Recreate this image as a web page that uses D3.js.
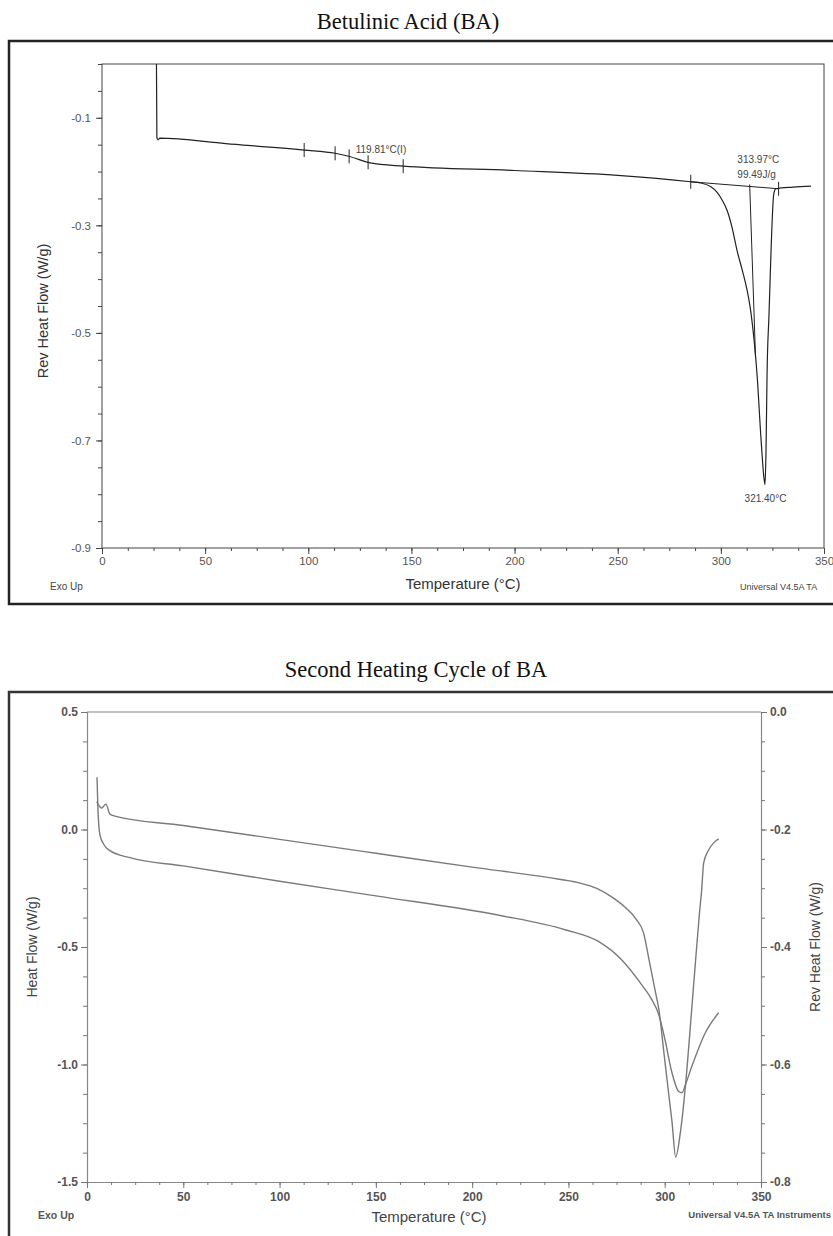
<!DOCTYPE html>
<html>
<head>
<meta charset="utf-8">
<script src="https://cdn.jsdelivr.net/npm/d3@7"></script>
<style>
  body { margin: 0; background: #fff; }
  svg { display: block; }
  text { font-family: Arial, "Liberation Sans", sans-serif; }
</style>
</head>
<body>
<svg id="chart" width="833" height="1236"></svg>
<script>
// DSC thermograms of betulinic acid

/*  DATA  */

// first run: rev heat flow (W/g) vs temperature (°C)
const baTemp = [26.4, 26.6, 27.2, 28, 60, 98, 113, 120, 130, 146, 200, 250, 285.4, 290, 295, 298, 300.6, 303, 305.5, 307.8,
    310.5, 312.7, 314.5, 316.1, 317.5, 319.5, 320.9, 321.4, 321.9, 322.4, 323.3, 325.7, 326.7, 335, 343.7];
const baRevHeat = [0.0, -0.137, -0.141, -0.138, -0.148, -0.160, -0.166, -0.172, -0.184, -0.190, -0.198, -0.207, -0.219, -0.221, -0.228, -0.238, -0.253, -0.272, -0.305, -0.346,
    -0.385, -0.420, -0.460, -0.513, -0.575, -0.699, -0.770, -0.782, -0.718, -0.575, -0.470, -0.240, -0.232, -0.229, -0.227];

// analysis marks on the first run
const markTemps = [98, 113, 119.8, 129, 146, 285.4, 328];
const integBaseTemp = [285.4, 328];
const integBaseVal = [-0.219, -0.232];
const onsetTemp = [313.97, 316.8];
const onsetVal = [-0.224, -0.545];
const baNotes = ['119.81°C(I)', '313.97°C', '99.49J/g', '321.40°C'];
const baNoteAt = [[123, -0.165], [308, -0.184], [308, -0.212], [311.5, -0.815]];

// second heating: heat flow (left axis) and rev heat flow (right axis)
const hfTemp = [5.0, 6.7, 7.6, 9.8, 11.9, 14.5, 50, 100, 150, 200, 240, 255, 265, 273, 280, 285, 289, 292, 295.3, 297,
    299.6, 302.2, 303.8, 305.7, 308.1, 310.9, 313.5, 316, 318.1, 319.2, 320.2, 322.8, 325.4, 328];
const hfVal = [0.118, 0.097, 0.091, 0.108, 0.066, 0.057, 0.017, -0.042, -0.101, -0.160, -0.205, -0.226, -0.252, -0.29, -0.335, -0.38, -0.44, -0.56, -0.696, -0.768,
    -0.951, -1.134, -1.245, -1.394, -1.291, -1.079, -0.819, -0.56, -0.351, -0.257, -0.143, -0.087, -0.057, -0.04];

const rhfTemp = [5.2, 5.7, 6.7, 8.8, 11.9, 22.3, 50, 100, 150, 214, 248.7, 265.8, 277.7, 288, 293, 297,
    300.3, 303.6, 307.3, 309, 310.8, 314, 321.1, 328];
const rhfVal = [-0.111, -0.167, -0.209, -0.226, -0.236, -0.248, -0.262, -0.288, -0.313, -0.346, -0.371, -0.391, -0.422, -0.464, -0.488, -0.516,
    -0.560, -0.612, -0.646, -0.648, -0.634, -0.604, -0.546, -0.512];

// axis ticks
const tempTicks = [0, 50, 100, 150, 200, 250, 300, 350];
const baYTicks = [-0.1, -0.3, -0.5, -0.7, -0.9];
const hfTicks = [0.5, 0.0, -0.5, -1.0, -1.5];
const rhfTicks = [0.0, -0.2, -0.4, -0.6, -0.8];

/*  SETUP  */

const svg = d3.select('#chart');
const fmt = d => d.toFixed(1);
const serif = '"Liberation Serif", "Times New Roman", serif';

// titles
svg.append('text').attr('x', 408).attr('y', 29).attr('text-anchor', 'middle')
    .style('font-family', serif).style('font-size', '22.5px').attr('fill', '#111')
    .text('Betulinic Acid (BA)');
svg.append('text').attr('x', 416).attr('y', 677).attr('text-anchor', 'middle')
    .style('font-family', serif).style('font-size', '22.5px').attr('fill', '#111')
    .text('Second Heating Cycle of BA');

// outer frames
svg.append('rect').attr('x', 9).attr('y', 41).attr('width', 840).attr('height', 563)
    .attr('fill', 'none').attr('stroke', '#222').attr('stroke-width', 2.5);
svg.append('rect').attr('x', 9).attr('y', 692).attr('width', 840).attr('height', 600)
    .attr('fill', 'none').attr('stroke', '#333').attr('stroke-width', 2.5);

/*  TOP CHART  */

const x1 = d3.scaleLinear().domain([0, 350]).range([102, 824]);
const y1 = d3.scaleLinear().domain([-0.9, 0]).range([548, 64]);

const topG = svg.append('g');

topG.append('rect').attr('x', 102).attr('y', 64).attr('width', 722).attr('height', 484)
    .attr('fill', 'none').attr('stroke', '#444').attr('stroke-width', 1);

// minor ticks
topG.append('g').attr('transform', 'translate(0,548)')
    .call(d3.axisBottom(x1).tickValues(d3.range(0, 351, 12.5)).tickSize(3).tickFormat(''))
    .call(g => g.select('.domain').remove());
topG.append('g').attr('transform', 'translate(102,0)')
    .call(d3.axisLeft(y1).tickValues(d3.range(-0.9, 0.001, 0.05)).tickSize(4).tickFormat(''))
    .call(g => g.select('.domain').remove());

topG.append('g').attr('transform', 'translate(0,548)')
    .call(d3.axisBottom(x1).tickValues(tempTicks).tickSize(6).tickPadding(3).tickFormat(d3.format('d')))
    .call(g => g.select('.domain').remove());
topG.append('g').attr('transform', 'translate(102,0)')
    .call(d3.axisLeft(y1).tickValues(baYTicks).tickSize(6).tickPadding(5).tickFormat(fmt))
    .call(g => g.select('.domain').remove());

topG.selectAll('.tick line').attr('stroke', '#444');
topG.selectAll('.tick text').attr('fill', '#555').style('font-size', '11.5px');

topG.append('text').attr('transform', 'translate(48,311) rotate(-90)').attr('text-anchor', 'middle')
    .style('font-size', '14.5px').attr('fill', '#333').text('Rev Heat Flow (W/g)');
topG.append('text').attr('x', 463).attr('y', 589).attr('text-anchor', 'middle')
    .style('font-size', '15px').attr('fill', '#333').text('Temperature (°C)');
topG.append('text').attr('x', 50).attr('y', 590)
    .style('font-size', '10px').attr('fill', '#444').text('Exo Up');
topG.append('text').attr('x', 740).attr('y', 590)
    .style('font-size', '9px').attr('fill', '#444').text('Universal V4.5A TA');

const clip1 = svg.append('clipPath').attr('id', 'clip1');
clip1.append('rect').attr('x', 102).attr('y', 64).attr('width', 722).attr('height', 484);

const line1 = d3.line().curve(d3.curveMonotoneX).x(i => x1(baTemp[i])).y(i => y1(baRevHeat[i]));
topG.append('path').datum(d3.range(baTemp.length))
    .attr('clip-path', 'url(#clip1)')
    .attr('fill', 'none').attr('stroke', '#222').attr('stroke-width', 1.2)
    .attr('d', line1);

// integration baseline and onset line
topG.append('line')
    .attr('x1', x1(integBaseTemp[0])).attr('y1', y1(integBaseVal[0]))
    .attr('x2', x1(integBaseTemp[1])).attr('y2', y1(integBaseVal[1]))
    .attr('stroke', '#222').attr('stroke-width', 1);
topG.append('line')
    .attr('x1', x1(onsetTemp[0])).attr('y1', y1(onsetVal[0]))
    .attr('x2', x1(onsetTemp[1])).attr('y2', y1(onsetVal[1]))
    .attr('stroke', '#222').attr('stroke-width', 1);

// analysis cross marks, placed on the curve
const valAt = t => {
    const i = d3.bisectLeft(baTemp, t);
    if (i <= 0) return baRevHeat[0];
    if (i >= baTemp.length) return baRevHeat[baTemp.length - 1];
    const f = (t - baTemp[i - 1]) / (baTemp[i] - baTemp[i - 1]);
    return baRevHeat[i - 1] + f * (baRevHeat[i] - baRevHeat[i - 1]);
};
topG.selectAll('.mark').data(markTemps).enter().append('line')
    .attr('class', 'mark')
    .attr('x1', d => x1(d)).attr('x2', d => x1(d))
    .attr('y1', d => y1(d > 327 ? integBaseVal[1] : valAt(d)) - 7)
    .attr('y2', d => y1(d > 327 ? integBaseVal[1] : valAt(d)) + 7)
    .attr('stroke', '#222').attr('stroke-width', 1);

topG.selectAll('.note').data(baNotes).enter().append('text')
    .attr('class', 'note')
    .attr('x', (d, i) => x1(baNoteAt[i][0])).attr('y', (d, i) => y1(baNoteAt[i][1]))
    .style('font-size', '10px').attr('fill', '#444').text(d => d);

/*  BOTTOM CHART  */

const x2 = d3.scaleLinear().domain([0, 350]).range([87, 761]);
const yL = d3.scaleLinear().domain([-1.5, 0.5]).range([1182, 712]);
const yR = d3.scaleLinear().domain([-0.8, 0]).range([1182, 712]);

const bot = svg.append('g');

bot.append('line').attr('x1', 87).attr('x2', 761).attr('y1', 712).attr('y2', 712)
    .attr('stroke', '#888').attr('stroke-width', 1.2);

bot.append('g').attr('transform', 'translate(0,1182)')
    .call(d3.axisBottom(x2).tickValues(d3.range(0, 351, 12.5)).tickSize(3).tickFormat(''));
bot.append('g').attr('transform', 'translate(87,0)')
    .call(d3.axisLeft(yL).tickValues(d3.range(-1.5, 0.501, 0.125)).tickSize(4).tickFormat(''));
bot.append('g').attr('transform', 'translate(761,0)')
    .call(d3.axisRight(yR).tickValues(d3.range(-0.8, 0.001, 0.05)).tickSize(4).tickFormat(''));

bot.append('g').attr('transform', 'translate(0,1182)')
    .call(d3.axisBottom(x2).tickValues(tempTicks).tickSize(6).tickPadding(4).tickFormat(d3.format('d')))
    .call(g => g.select('.domain').remove());
bot.append('g').attr('transform', 'translate(87,0)')
    .call(d3.axisLeft(yL).tickValues(hfTicks).tickSize(6).tickPadding(3).tickFormat(fmt))
    .call(g => g.select('.domain').remove());
bot.append('g').attr('transform', 'translate(761,0)')
    .call(d3.axisRight(yR).tickValues(rhfTicks).tickSize(6).tickPadding(3).tickFormat(fmt))
    .call(g => g.select('.domain').remove());

bot.selectAll('.domain').attr('stroke', '#888').attr('stroke-width', 1.2);
bot.selectAll('.tick line').attr('stroke', '#777');
bot.selectAll('.tick text').attr('fill', '#555').style('font-size', '12px').style('font-weight', 'bold');

bot.append('text').attr('transform', 'translate(37,947) rotate(-90)').attr('text-anchor', 'middle')
    .style('font-size', '14px').attr('fill', '#444').text('Heat Flow (W/g)');
bot.append('text').attr('transform', 'translate(820,947) rotate(-90)').attr('text-anchor', 'middle')
    .style('font-size', '14px').attr('fill', '#444').text('Rev Heat Flow (W/g)');
bot.append('text').attr('x', 429).attr('y', 1222).attr('text-anchor', 'middle')
    .style('font-size', '15px').attr('fill', '#444').text('Temperature (°C)');
bot.append('text').attr('x', 38).attr('y', 1219)
    .style('font-size', '10.5px').style('font-weight', 'bold').attr('fill', '#555').text('Exo Up');
bot.append('text').attr('x', 831).attr('y', 1218).attr('text-anchor', 'end')
    .style('font-size', '9.5px').style('font-weight', 'bold').attr('fill', '#555')
    .text('Universal V4.5A TA Instruments');

const lineHF = d3.line().curve(d3.curveMonotoneX).x(i => x2(hfTemp[i])).y(i => yL(hfVal[i]));
const lineRHF = d3.line().curve(d3.curveMonotoneX).x(i => x2(rhfTemp[i])).y(i => yR(rhfVal[i]));

bot.append('path').datum(d3.range(hfTemp.length))
    .attr('fill', 'none').attr('stroke', '#7a7a7a').attr('stroke-width', 1.4)
    .attr('d', lineHF);
bot.append('path').datum(d3.range(rhfTemp.length))
    .attr('fill', 'none').attr('stroke', '#7a7a7a').attr('stroke-width', 1.4)
    .attr('d', lineRHF);
</script>
</body>
</html>
